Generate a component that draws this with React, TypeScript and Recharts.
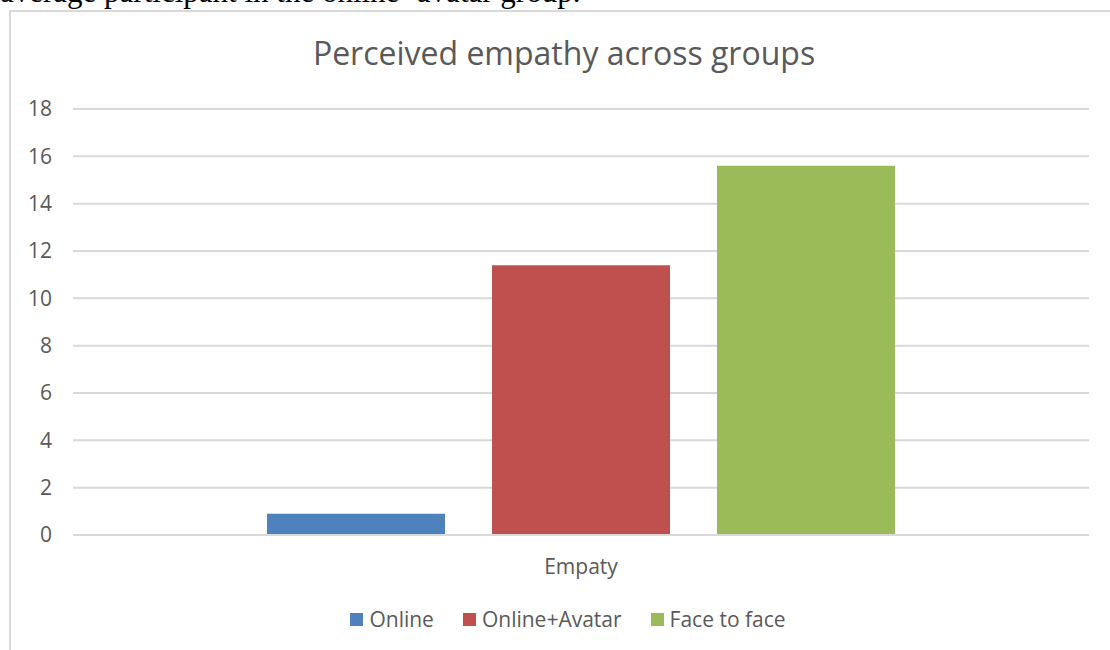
import React from 'react';
import { BarChart, Bar, XAxis, YAxis, CartesianGrid, Legend } from 'recharts';

// measure on the x axis
const categories = ['Empaty'];

// one bar per group
const groups = ['Online', 'Online+Avatar', 'Face to face'];
const groupKeys = ['online', 'onlineAvatar', 'faceToFace'];
const empathyScores = [0.9, 11.4, 15.6];
const groupColors = ['#4f81bd', '#c0504d', '#9bbb59'];

const yTicks = [0, 2, 4, 6, 8, 10, 12, 14, 16, 18];

const data = categories.map((name) => {
  const row: Record<string, string | number> = { name };
  groupKeys.forEach((k, i) => {
    row[k] = empathyScores[i];
  });
  return row;
});

const FONT = '"Open Sans", "Noto Sans", sans-serif';
const TEXT = '#595959';
const GRID = '#d9d9d9';

function LegendRow() {
  return (
    <div
      style={{
        display: 'flex',
        justifyContent: 'center',
        alignItems: 'center',
        fontFamily: FONT,
        fontSize: 21,
        color: TEXT,
      }}
    >
      {groups.map((g, i) => (
        <div key={g} style={{ display: 'flex', alignItems: 'center', margin: '0 14.5px' }}>
          <span
            style={{
              display: 'inline-block',
              width: 13,
              height: 13,
              background: groupColors[i],
              marginRight: 6,
            }}
          />
          <span>{g}</span>
        </div>
      ))}
    </div>
  );
}

export default function App() {
  return (
    <div
      style={{
        position: 'fixed',
        left: 0,
        top: 0,
        width: 1110,
        height: 650,
        overflow: 'hidden',
        background: '#fff',
      }}
    >
      {/* tail of the paragraph above the figure */}
      <div
        style={{
          position: 'absolute',
          left: 0,
          top: -23,
          fontFamily: '"Liberation Serif", "Times New Roman", serif',
          fontSize: 31,
          lineHeight: '30px',
          color: '#000',
          whiteSpace: 'nowrap',
        }}
      >
        average participant in the online+avatar group.
      </div>

      {/* chart frame */}
      <div
        style={{
          position: 'absolute',
          left: 9,
          top: 10,
          width: 1120,
          height: 660,
          border: `2px solid ${GRID}`,
          boxSizing: 'border-box',
        }}
      />

      <div
        style={{
          position: 'absolute',
          left: 0,
          top: 33,
          width: 1128,
          textAlign: 'center',
          fontFamily: FONT,
          fontSize: 32,
          color: TEXT,
          lineHeight: '40px',
        }}
      >
        Perceived empathy across groups
      </div>

      <div style={{ position: 'absolute', left: 0, top: 0 }}>
        <BarChart
          width={1110}
          height={650}
          data={data}
          margin={{ top: 109, right: 21, bottom: 37, left: 13 }}
          barSize={178}
          barGap={47}
        >
          <CartesianGrid vertical={false} stroke={GRID} strokeWidth={2} />
          <XAxis
            dataKey="name"
            axisLine={{ stroke: GRID, strokeWidth: 2 }}
            tickLine={false}
            tickSize={0}
            tickMargin={24}
            tick={{ fill: TEXT, fontSize: 21, fontFamily: FONT }}
            height={50}
          />
          <YAxis
            width={60}
            domain={[0, 18]}
            ticks={yTicks}
            interval={0}
            axisLine={false}
            tickLine={false}
            tickSize={0}
            tickMargin={21}
            tick={{ fill: TEXT, fontSize: 21, fontFamily: FONT }}
          />
          <Legend
            content={() => <LegendRow />}
            wrapperStyle={{ position: 'absolute', top: 605, left: 0, width: 1136 }}
          />
          {groupKeys.map((k, i) => (
            <Bar
              key={k}
              dataKey={k}
              name={groups[i]}
              fill={groupColors[i]}
              isAnimationActive={false}
            />
          ))}
        </BarChart>
      </div>
    </div>
  );
}
